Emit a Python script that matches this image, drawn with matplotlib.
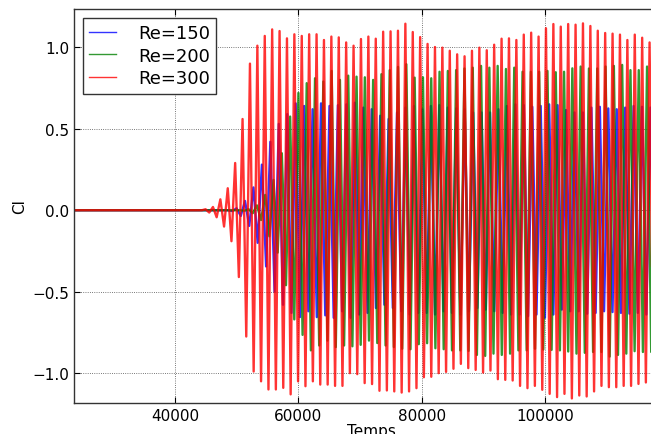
import numpy as np
import matplotlib
matplotlib.use("Agg")
import matplotlib.pyplot as plt

# Cl signals, read as successive extrema (min / max alternating) off the plot.
# each series: onset time of first extremum, half period, extrema values

RE150_START = 49290
RE150_HALF = 685
re150_peaks = [
    -0.005, 0.012, -0.035, 0.057, -0.096, 0.14, -0.20, 0.28, -0.345, 0.42,
    -0.50, 0.53, -0.58, 0.59, -0.63, 0.656, -0.656, 0.64, -0.62, 0.62,
    -0.656, 0.656, -0.645, 0.64, -0.66, 0.645, -0.62, 0.65, -0.66, 0.66,
    -0.64, 0.63, -0.63, 0.62, -0.60, 0.58, -0.58, 0.56, -0.60, 0.60,
    -0.62, 0.63, -0.64, 0.64, -0.63, 0.62, -0.63, 0.64, -0.64, 0.645,
    -0.62, 0.63, -0.63, 0.625, -0.64, 0.62, -0.62, 0.60, -0.60, 0.60,
    -0.61, 0.60, -0.62, 0.62, -0.63, 0.64, -0.64, 0.65, -0.64, 0.645,
    -0.65, 0.635, -0.64, 0.64, -0.66, 0.65, -0.64, 0.645, -0.61, 0.615,
    -0.62, 0.60, -0.62, 0.60, -0.635, 0.63, -0.63, 0.635, -0.62, 0.625,
    -0.625, 0.62, -0.63, 0.63, -0.635, 0.64, -0.63, 0.635, -0.64, 0.63,
    -0.63, 0.63,
]

RE200_START = 51261
RE200_HALF = 673
re200_peaks = [
    -0.003, 0.006, -0.018, 0.03, -0.06, 0.094, -0.16, 0.186, -0.26, 0.35,
    -0.46, 0.575, -0.67, 0.72, -0.765, 0.78, -0.86, 0.81, -0.83, 0.79,
    -0.80, 0.855, -0.84, 0.80, -0.83, 0.826, -0.835, 0.82, -0.826, 0.816,
    -0.80, 0.80, -0.815, 0.835, -0.83, 0.86, -0.84, 0.88, -0.85, 0.896,
    -0.853, 0.814, -0.822, 0.816, -0.816, 0.81, -0.847, 0.85, -0.853, 0.855,
    -0.86, 0.86, -0.86, 0.87, -0.863, 0.875, -0.888, 0.886, -0.894, 0.875,
    -0.88, 0.886, -0.888, 0.867, -0.88, 0.875, -0.86, 0.85, -0.86, 0.85,
    -0.85, 0.85, -0.855, 0.855, -0.857, 0.847, -0.86, 0.85, -0.867, 0.871,
    -0.88, 0.882, -0.875, 0.87, -0.87, 0.87, -0.87, 0.882, -0.898, 0.886,
    -0.888, 0.892, -0.88, 0.86, -0.865, 0.86, -0.87, 0.882, -0.87, 0.87,
    -0.87,
]

RE300_START = 44950
RE300_HALF = 600
re300_peaks = [
    0.006, -0.014, 0.02, -0.043, 0.067, -0.10, 0.135, -0.19, 0.29, -0.41,
    0.56, -0.775, 0.90, -0.99, 1.01, -1.05, 1.07, -1.10, 1.11, -1.10,
    1.10, -1.09, 1.055, -1.13, 1.08, -1.05, 1.07, -1.08, 1.08, -1.05,
    1.08, -1.07, 1.045, -1.07, 1.066, -1.078, 1.061, -1.078, 1.030, -1.0,
    1.010, -1.006, 1.051, -1.061, 1.066, -1.067, 1.053, -1.108, 1.096, -1.106,
    1.098, -1.112, 1.102, -1.119, 1.145, -1.112, 1.094, -1.092, 1.063, -1.025,
    1.021, -1.022, 1.002, -1.0, 0.998, -0.992, 0.979, -0.973, 0.957, -0.943,
    0.945, -0.969, 0.979, -0.98, 0.998, -0.996, 0.982, -0.984, 1.016, -1.037,
    1.053, -1.041, 1.055, -1.045, 1.045, -1.078, 1.078, -1.092, 1.090, -1.078,
    1.066, -1.102, 1.117, -1.127, 1.143, -1.147, 1.127, -1.127, 1.143, -1.155,
    1.139, -1.137, 1.147, -1.143, 1.131, -1.112, 1.102, -1.078, 1.088, -1.086,
    1.084, -1.086, 1.078, -1.078, 1.045, -1.078, 1.078, -1.066, 1.059, -1.057,
    1.030, -1.06, 1.05,
]

labels = ["Re=150", "Re=200", "Re=300"]
colors = ["b", "g", "r"]


def make_series(start, half, peaks):
    # signal sits at zero from t=0 until the instability kicks in
    t = np.r_[0.0, start - half, start + half * np.arange(len(peaks))]
    y = np.r_[0.0, 0.0, peaks]
    return t, y


plt.rcParams["font.family"] = "DejaVu Sans"
plt.rcParams["font.size"] = 11

fig = plt.figure(figsize=(6.51, 4.35), dpi=100)
ax = fig.add_axes([0.1137, 0.0713, 0.913, 0.906])

series = [(RE150_START, RE150_HALF, re150_peaks),
          (RE200_START, RE200_HALF, re200_peaks),
          (RE300_START, RE300_HALF, re300_peaks)]
for (start, half, peaks), lab, col in zip(series, labels, colors):
    t, y = make_series(start, half, peaks)
    ax.plot(t, y, color=col, lw=1.7, alpha=0.8, label=lab)

ax.set_xlim(23620, 120000)
ax.set_ylim(-1.183, 1.236)
ax.set_xticks([40000, 60000, 80000, 100000])
ax.set_yticks([-1.0, -0.5, 0.0, 0.5, 1.0])
ax.grid(True, color="k", linestyle=":", linewidth=0.6, alpha=0.7)
ax.tick_params(direction="in", top=True, right=True, length=4, labelsize=11)
for sp in ax.spines.values():
    sp.set_linewidth(1.0)
    sp.set_color("#333333")

ax.set_xlabel("Temps", fontsize=11, labelpad=0)
ax.set_ylabel("Cl", fontsize=11, labelpad=4)

leg = ax.legend(loc="upper left", fontsize=13, fancybox=False, framealpha=1,
                edgecolor="#333333", handlelength=1.5, handletextpad=1.2,
                labelspacing=0.25, borderaxespad=0.5, borderpad=0.35)
leg.get_frame().set_linewidth(1.0)
for h in leg.get_lines():
    h.set_linewidth(1.0)

fig.savefig("out.png", dpi=100)
